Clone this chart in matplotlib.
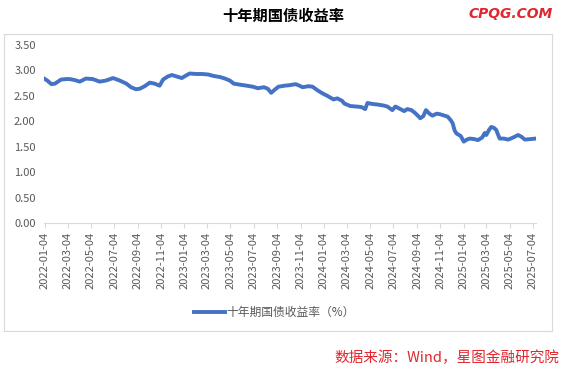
import pandas as pd
import matplotlib
matplotlib.use('Agg')
import matplotlib.pyplot as plt
import matplotlib.dates as mdates
from matplotlib.patches import Rectangle

plt.rcParams['font.family'] = ['Noto Sans CJK SC', 'DejaVu Sans']

# --- data ---
dates = ['2022-01-04', '2022-01-10', '2022-01-21', '2022-01-30', '2022-02-15', '2022-02-28',
         '2022-03-10', '2022-03-23', '2022-04-05', '2022-04-21', '2022-05-09', '2022-05-27',
         '2022-06-12', '2022-07-01', '2022-07-19', '2022-08-05', '2022-08-17', '2022-08-30',
         '2022-09-09', '2022-09-22', '2022-10-05', '2022-10-18', '2022-10-31', '2022-11-09',
         '2022-11-21', '2022-12-02', '2022-12-15', '2022-12-28', '2023-01-08', '2023-01-18',
         '2023-02-03', '2023-02-19', '2023-03-07', '2023-03-22', '2023-04-07', '2023-04-20',
         '2023-05-03', '2023-05-13', '2023-05-29', '2023-06-16', '2023-07-02', '2023-07-15',
         '2023-07-31', '2023-08-10', '2023-08-19', '2023-08-28', '2023-09-07', '2023-09-23',
         '2023-10-06', '2023-10-22', '2023-11-01', '2023-11-09', '2023-11-25', '2023-12-05',
         '2023-12-18', '2023-12-31', '2024-01-13', '2024-01-29', '2024-02-08', '2024-02-21',
         '2024-02-26', '2024-03-13', '2024-03-29', '2024-04-11', '2024-04-21', '2024-04-27',
         '2024-05-10', '2024-05-23', '2024-06-08', '2024-06-18', '2024-07-01', '2024-07-09',
         '2024-07-22', '2024-08-01', '2024-08-09', '2024-08-20', '2024-08-30', '2024-09-07',
         '2024-09-12', '2024-09-20', '2024-09-27', '2024-10-06', '2024-10-14', '2024-10-25',
         '2024-11-02', '2024-11-15', '2024-11-23', '2024-12-01', '2024-12-06', '2024-12-11',
         '2024-12-16', '2024-12-27', '2025-01-04', '2025-01-12', '2025-01-20', '2025-01-31',
         '2025-02-10', '2025-02-21', '2025-02-28', '2025-03-04', '2025-03-11', '2025-03-17',
         '2025-03-24', '2025-03-30', '2025-04-03', '2025-04-08', '2025-04-19', '2025-04-30',
         '2025-05-13', '2025-05-26', '2025-06-03', '2025-06-13', '2025-06-27', '2025-07-11']
yields = [2.83, 2.80, 2.73, 2.74, 2.82, 2.83,
          2.83, 2.81, 2.78, 2.84, 2.83, 2.78,
          2.80, 2.85, 2.80, 2.74, 2.67, 2.63,
          2.64, 2.69, 2.76, 2.74, 2.70, 2.82,
          2.88, 2.91, 2.88, 2.85, 2.90, 2.94,
          2.93, 2.93, 2.92, 2.89, 2.87, 2.84,
          2.80, 2.74, 2.72, 2.70, 2.68, 2.65,
          2.67, 2.64, 2.56, 2.62, 2.68, 2.70,
          2.71, 2.73, 2.70, 2.67, 2.69, 2.68,
          2.61, 2.55, 2.50, 2.43, 2.45, 2.40,
          2.35, 2.30, 2.29, 2.28, 2.24, 2.36,
          2.34, 2.33, 2.31, 2.29, 2.22, 2.29,
          2.24, 2.20, 2.24, 2.22, 2.16, 2.10,
          2.06, 2.10, 2.22, 2.15, 2.11, 2.15,
          2.14, 2.11, 2.09, 2.02, 1.96, 1.82,
          1.76, 1.71, 1.60, 1.64, 1.66, 1.65,
          1.63, 1.68, 1.77, 1.73, 1.83, 1.89,
          1.87, 1.83, 1.75, 1.66, 1.66, 1.64,
          1.68, 1.73, 1.70, 1.64, 1.65, 1.66]
tick_labels = ['2022-01-04', '2022-03-04', '2022-05-04', '2022-07-04', '2022-09-04', '2022-11-04',
               '2023-01-04', '2023-03-04', '2023-05-04', '2023-07-04', '2023-09-04', '2023-11-04',
               '2024-01-04', '2024-03-04', '2024-05-04', '2024-07-04', '2024-09-04', '2024-11-04',
               '2025-01-04', '2025-03-04', '2025-05-04', '2025-07-04']
y_ticks = [0, 0.5, 1.0, 1.5, 2.0, 2.5, 3.0, 3.5]

series_name = '十年期国债收益率（%）'
gray = '#595959'
red = '#E0262E'

# --- figure ---
fig = plt.figure(figsize=(5.62, 3.72), dpi=100)
ax = fig.add_axes([44 / 562, 149 / 372, 492 / 562, 178 / 372])

x = pd.to_datetime(dates)
ax.plot(x, yields, color='#4472C4', lw=2.8, label=series_name, solid_joinstyle='round')

start = pd.Timestamp('2022-01-04')
ax.set_xlim(start - pd.Timedelta(days=2.6), start + pd.Timedelta(days=1285))
ax.set_ylim(0, 3.5)

ax.set_xticks(pd.to_datetime(tick_labels))
ax.xaxis.set_major_formatter(mdates.DateFormatter('%Y-%m-%d'))
ax.set_yticks(y_ticks)
ax.set_yticklabels([f'{v:.2f}' for v in y_ticks])

for s in ['top', 'right', 'left']:
    ax.spines[s].set_visible(False)
ax.spines['bottom'].set_color('#D9D9D9')
ax.spines['bottom'].set_linewidth(0.8)

ax.tick_params(axis='x', direction='out', length=3.5, width=0.8, color='#D9D9D9',
               labelsize=8, labelcolor=gray, labelrotation=90, pad=3)
ax.tick_params(axis='y', length=0, labelsize=8, labelcolor=gray, pad=6)

# outer chart frame
fig.patches.append(Rectangle((4 / 562, 41 / 372), 548 / 562, 297 / 372, transform=fig.transFigure,
                             fill=False, edgecolor='#D9D9D9', lw=0.8))

fig.legend(loc='center', bbox_to_anchor=(0.488, 0.159), frameon=False, fontsize=8.5,
           handlelength=2.6, handletextpad=0.1, labelcolor=gray)

fig.text(0.5036, 0.957, '十年期国债收益率', ha='center', va='center', fontsize=11,
         fontweight='bold', color='black')
fig.text(0.908, 0.962, 'CPQG.COM', ha='center', va='center', fontsize=10,
         fontweight='bold', style='italic', color=red, family='DejaVu Sans')
fig.text(0.995, 0.038, '数据来源：Wind，星图金融研究院', ha='right', va='center',
         fontsize=10.5, style='italic', color=red)

fig.savefig('out.png', dpi=100)
